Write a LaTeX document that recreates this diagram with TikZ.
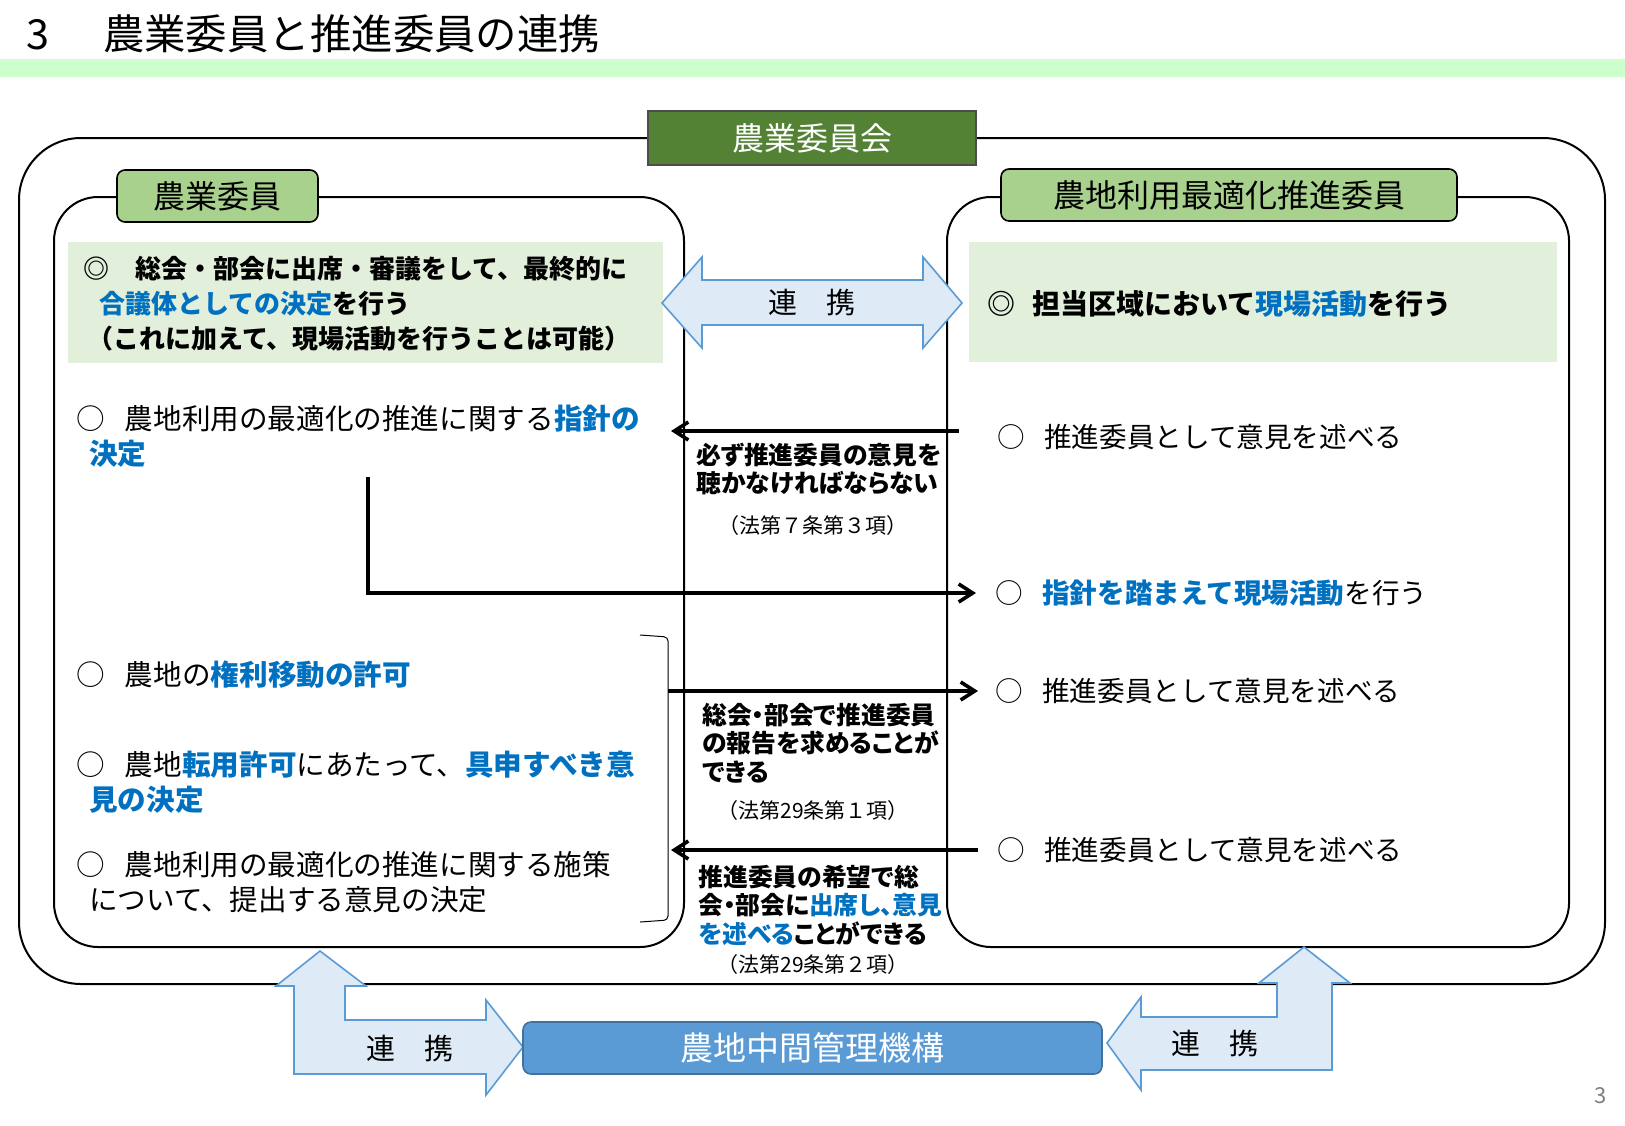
\documentclass[tikz,border=0pt]{standalone}
\usepackage{fontspec}
\setmainfont{Noto Sans CJK JP}
\usetikzlibrary{positioning,arrows.meta,fit}
\definecolor{bandgreen}{RGB}{204,255,204}
\definecolor{councilgreen}{RGB}{84,130,53}
\definecolor{labelgreen}{RGB}{169,209,142}
\definecolor{shadegreen}{RGB}{226,239,218}
\definecolor{keyblue}{RGB}{0,112,192}
\definecolor{bankblue}{RGB}{91,155,213}
\definecolor{bankedge}{RGB}{65,113,156}
\definecolor{coopfill}{RGB}{222,235,247}
\definecolor{coopedge}{RGB}{91,155,213}
\newcommand{\kw}[1]{\textcolor{keyblue}{\textbf{#1}}}
\newcommand{\bul}{○\hspace{0.7em}}

\begin{document}
\begin{tikzpicture}[x=0.5pt, y=-0.5pt,
    frame/.style={draw, line width=1pt, rounded corners=22pt, inner sep=0pt},
    shade/.style={fill=shadegreen, inner sep=0pt},
    tag/.style={draw, line width=0.8pt, rounded corners=4pt, fill=labelgreen, minimum height=26pt, font=\fontsize{16}{18}\selectfont},
    item/.style={anchor=west, align=left, inner sep=0pt, font=\fontsize{14.3}{17.5}\selectfont},
    ritem/.style={item, font=\fontsize{13.8}{17.5}\selectfont},
    bolditem/.style={item, font=\fontsize{13}{17.5}\selectfont\bfseries},
    note/.style={anchor=west, align=left, inner sep=0pt, font=\fontsize{12.4}{14.25}\selectfont\bfseries\addfontfeatures{RawFeature=+palt}},
    law/.style={inner sep=0pt, font=\fontsize{10.5}{12}\selectfont},
    coop/.style={draw=coopedge, fill=coopfill, line width=0.8pt},
    cooptext/.style={inner sep=0pt, font=\fontsize{14.5}{16}\selectfont},
    arr/.style={-{Straight Barb[length=7pt, width=9pt]}, line width=1.8pt}
  ]
  \fill[white] (0,0) rectangle (1625,1125);
  \useasboundingbox (0,0) rectangle (1625,1125);

  % title
  \node[anchor=west, inner sep=0pt, font=\fontsize{20.7}{24}\selectfont] (title) at (26,34) {3\hspace{1.3em}農業委員と推進委員の連携};
  \fill[bandgreen] (0,59) rectangle (1625,77);

  % frames
  \node[frame, rounded corners=31pt, fit={(19,138) (1605,984)}] (council) {};
  \node[draw=black!70, line width=0.8pt, fill=councilgreen, text=white, minimum width=164pt, minimum height=27pt, font=\fontsize{16}{18}\selectfont] (councilTag) at (812,138) {農業委員会};
  \node[frame, fit={(54,197) (684,947)}] (farmFrame) {};
  \node[frame, fit={(947,197) (1569,947)}] (promoFrame) {};
  \node[shade, fit={(68,242) (663,363)}] (farmShade) {};
  \node[shade, fit={(969,242) (1557,362)}] (promoShade) {};
  \node[tag, minimum width=100.5pt] (farmTag) at (217.5,196) {農業委員};
  \node[tag, minimum width=228pt] (promoTag) at (1229,195) {農地利用最適化推進委員};

  % farm committee side
  \node[bolditem] (L0) at (83,304) {◎　総会・部会に出席・審議をして、最終的に\\\hspace*{0.6em}\kw{合議体としての決定}を行う\\\hspace*{0.15em}（これに加えて、現場活動を行うことは可能）};
  \node[item] (L1) at (76,436.5) {\bul 農地利用の最適化の推進に関する\kw{指針の}\\\hspace*{0.45em}\kw{決定}};
  \node[item] (L2) at (76,675) {\bul 農地の\kw{権利移動の許可}};
  \node[item] (L3) at (76,782.5) {\bul 農地\kw{転用許可}にあたって、\kw{具申すべき意}\\\hspace*{0.45em}\kw{見の決定}};
  \node[item] (L4) at (76,882.5) {\bul 農地利用の最適化の推進に関する施策\\\hspace*{0.45em}について、提出する意見の決定};
  \draw[line width=0.5pt, rounded corners=2pt] (640,635) -- (668,637) -- (668,920) -- (640,922);

  % promotion committee side
  \node[bolditem, font=\fontsize{14}{17.5}\selectfont\bfseries] (R0) at (987,304) {◎\hspace{0.6em}担当区域において\kw{現場活動}を行う};
  \node[ritem] (R1) at (997,437) {\bul 推進委員として意見を述べる};
  \node[ritem] (R2) at (995,593) {\bul\kw{指針を踏まえて現場活動}を行う};
  \node[ritem] (R3) at (995,691) {\bul 推進委員として意見を述べる};
  \node[ritem] (R4) at (997,850) {\bul 推進委員として意見を述べる};

  % 連携 (top)
  \draw[coop] (662,303) -- (702,257) -- (702,280) -- (923,280) -- (923,257) -- (962,303)
    -- (923,348) -- (923,325) -- (702,325) -- (702,348) -- cycle;
  \node[cooptext] (coopTop) at (812,303) {連　携};

  % connectors
  \coordinate (tipL) at (671,0);
  \coordinate (bend) at (368,477);
  \coordinate (brk) at (668,0);
  \draw[arr] ([xshift=-19pt,yshift=3pt]R1.west) -- ([yshift=3pt]R1.west -| tipL);
  \draw[arr] (bend) |- ([xshift=-9.5pt]R2.west);
  \draw[arr] (R3.west -| brk) -- ([xshift=-8.5pt]R3.west);
  \draw[arr] ([xshift=-9.5pt]R4.west) -- (R4.west -| tipL);

  % notes
  \node[note] (M1) at (696,469) {必ず推進委員の意見を\\聴かなければならない};
  \node[law] (M1law) at (813,526) {（法第７条第３項）};
  \node[note] (M2) at (702,743) {総会・部会で推進委員\\の報告を求めることが\\できる};
  \node[law] (M2law) at (813,811) {（法第29条第１項）};
  \node[note] (M3) at (698,905) {推進委員の希望で総\\会・部会に\kw{出席し、意見}\\\kw{を述べる}ことができる};
  \node[law] (M3law) at (813,964) {（法第29条第２項）};

  % 農地中間管理機構
  \draw[coop] (320,951) -- (366,986) -- (345,986) -- (345,1020) -- (486,1020) -- (486,1000)
    -- (523,1047) -- (486,1095) -- (486,1074) -- (294,1074) -- (294,986) -- (276,986) -- cycle;
  \draw[coop] (1304,947) -- (1350,983) -- (1332,983) -- (1332,1070) -- (1141,1070) -- (1141,1090)
    -- (1107,1043) -- (1141,997) -- (1141,1017) -- (1277,1017) -- (1277,983) -- (1259,983) -- cycle;
  \node[draw=bankedge, line width=0.8pt, rounded corners=4pt, fill=bankblue, text=white, minimum width=289.5pt, minimum height=26pt, font=\fontsize{16.5}{18}\selectfont] (bank) at (812.5,1048) {農地中間管理機構};
  \node[cooptext] (coopLeft) at (410,1048) {連　携};
  \node[cooptext] (coopRight) at (1215,1043) {連　携};

  \node[text=gray, inner sep=0pt, font=\fontsize{11}{12}\selectfont] (page) at (1601,1096) {3};
\end{tikzpicture}
\end{document}
